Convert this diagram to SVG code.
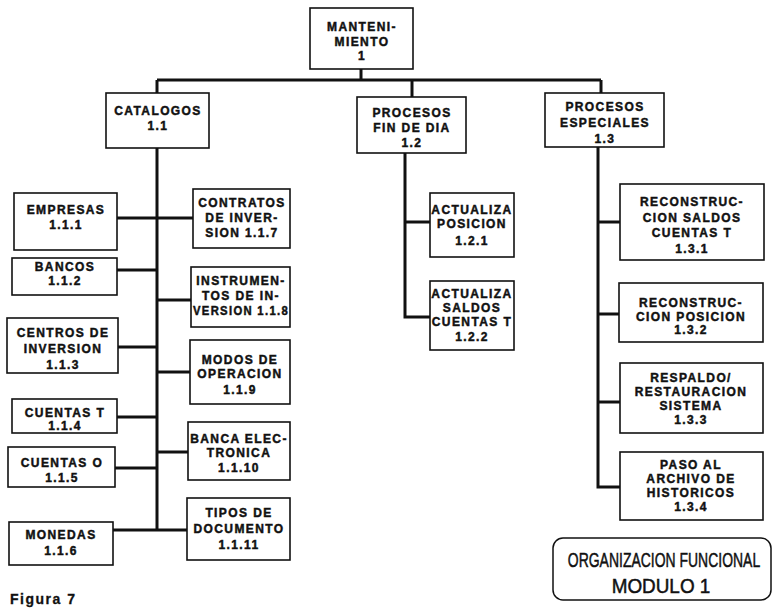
<svg xmlns="http://www.w3.org/2000/svg" width="773" height="609" viewBox="0 0 773 609">
  <style>
    .box { fill: #fff; stroke: #111; stroke-width: 1.6; }
    .lbl { font-family: "Liberation Sans", Arial, sans-serif; font-weight: bold; font-size: 12px; letter-spacing: 1.4px; fill: #111; stroke: #111; stroke-width: 0.45; text-anchor: middle; }
    .wire { fill: none; stroke: #111; stroke-width: 3; stroke-linejoin: miter; }
    .title { font-family: "Liberation Sans", Arial, sans-serif; font-size: 21px; fill: #111; text-anchor: middle; stroke: #111; stroke-width: 0.5; }
    .cap { font-family: "Liberation Sans", Arial, sans-serif; font-weight: bold; font-size: 14px; letter-spacing: 1.5px; fill: #111; stroke: #111; stroke-width: 0.3; }
  </style>
  <rect width="773" height="609" fill="#fff"/>

  <!-- connectors -->
  <g id="connectors" class="wire">
    <path d="M157 80 H601"/>
    <path d="M361 69 V80"/>
    <path d="M157 80 V93"/>
    <path d="M412 80 V97"/>
    <path d="M601 80 V93"/>
    <!-- catalogos trunk -->
    <path d="M157 148 V531"/>
    <path d="M117 218 H193"/>
    <path d="M117 270 H157"/>
    <path d="M118 347 H157"/>
    <path d="M117 417 H157"/>
    <path d="M115 468 H157"/>
    <path d="M113 530 H187"/>
    <path d="M157 300 H191"/>
    <path d="M157 372 H190"/>
    <path d="M157 452 H188"/>
    <!-- fin de dia trunk -->
    <path d="M405 153 V317 H430"/>
    <path d="M405 222 H430"/>
    <!-- especiales trunk -->
    <path d="M598 147 V487 H620"/>
    <path d="M598 222 H620"/>
    <path d="M598 314 H619"/>
    <path d="M598 402 H620"/>
  </g>

  <g id="n1">
    <rect class="box" x="310" y="8" width="103" height="61"/>
    <text class="lbl" x="362" y="31">MANTENI-</text>
    <text class="lbl" x="362" y="46">MIENTO</text>
    <text class="lbl" x="362" y="60">1</text>
  </g>
  <g id="n1-1">
    <rect class="box" x="106" y="93" width="103" height="55"/>
    <text class="lbl" x="158" y="115">CATALOGOS</text>
    <text class="lbl" x="158" y="130">1.1</text>
  </g>
  <g id="n1-2">
    <rect class="box" x="357" y="97" width="109" height="56"/>
    <text class="lbl" x="412" y="117">PROCESOS</text>
    <text class="lbl" x="412" y="132">FIN DE DIA</text>
    <text class="lbl" x="412" y="147">1.2</text>
  </g>
  <g id="n1-3">
    <rect class="box" x="545" y="93" width="119" height="54"/>
    <text class="lbl" x="605" y="111">PROCESOS</text>
    <text class="lbl" x="605" y="127">ESPECIALES</text>
    <text class="lbl" x="605" y="143">1.3</text>
  </g>

  <g id="n1-1-1">
    <rect class="box" x="14" y="193" width="103" height="57"/>
    <text class="lbl" x="66" y="214">EMPRESAS</text>
    <text class="lbl" x="66" y="229">1.1.1</text>
  </g>
  <g id="n1-1-2">
    <rect class="box" x="12" y="258" width="105" height="37"/>
    <text class="lbl" x="65" y="271">BANCOS</text>
    <text class="lbl" x="65" y="285">1.1.2</text>
  </g>
  <g id="n1-1-3">
    <rect class="box" x="7" y="318" width="111" height="55"/>
    <text class="lbl" x="63" y="337">CENTROS DE</text>
    <text class="lbl" x="63" y="353">INVERSION</text>
    <text class="lbl" x="63" y="369">1.1.3</text>
  </g>
  <g id="n1-1-4">
    <rect class="box" x="12" y="399" width="105" height="34"/>
    <text class="lbl" x="65" y="417">CUENTAS T</text>
    <text class="lbl" x="65" y="430">1.1.4</text>
  </g>
  <g id="n1-1-5">
    <rect class="box" x="8" y="447" width="107" height="40"/>
    <text class="lbl" x="62" y="467">CUENTAS O</text>
    <text class="lbl" x="62" y="482">1.1.5</text>
  </g>
  <g id="n1-1-6">
    <rect class="box" x="9" y="522" width="104" height="43"/>
    <text class="lbl" x="61" y="539">MONEDAS</text>
    <text class="lbl" x="61" y="555">1.1.6</text>
  </g>

  <g id="n1-1-7">
    <rect class="box" x="193" y="189" width="97" height="59"/>
    <text class="lbl" x="242" y="207">CONTRATOS</text>
    <text class="lbl" x="242" y="222">DE INVER-</text>
    <text class="lbl" x="242" y="237">SION 1.1.7</text>
  </g>
  <g id="n1-1-8">
    <rect class="box" x="191" y="267" width="99" height="60"/>
    <text class="lbl" x="241" y="285">INSTRUMEN-</text>
    <text class="lbl" x="241" y="300">TOS DE IN-</text>
    <text class="lbl" x="241" y="315" textLength="96" lengthAdjust="spacingAndGlyphs">VERSION 1.1.8</text>
  </g>
  <g id="n1-1-9">
    <rect class="box" x="190" y="340" width="100" height="64"/>
    <text class="lbl" x="240" y="364">MODOS DE</text>
    <text class="lbl" x="240" y="378">OPERACION</text>
    <text class="lbl" x="240" y="394">1.1.9</text>
  </g>
  <g id="n1-1-10">
    <rect class="box" x="188" y="422" width="102" height="58"/>
    <text class="lbl" x="239" y="443">BANCA ELEC-</text>
    <text class="lbl" x="239" y="457">TRONICA</text>
    <text class="lbl" x="239" y="472">1.1.10</text>
  </g>
  <g id="n1-1-11">
    <rect class="box" x="187" y="498" width="103" height="62"/>
    <text class="lbl" x="239" y="517">TIPOS DE</text>
    <text class="lbl" x="239" y="533">DOCUMENTO</text>
    <text class="lbl" x="239" y="549">1.1.11</text>
  </g>

  <g id="n1-2-1">
    <rect class="box" x="430" y="193" width="84" height="64"/>
    <text class="lbl" x="472" y="214">ACTUALIZA</text>
    <text class="lbl" x="472" y="228">POSICION</text>
    <text class="lbl" x="472" y="245">1.2.1</text>
  </g>
  <g id="n1-2-2">
    <rect class="box" x="430" y="281" width="84" height="69"/>
    <text class="lbl" x="472" y="298">ACTUALIZA</text>
    <text class="lbl" x="472" y="312">SALDOS</text>
    <text class="lbl" x="472" y="326">CUENTAS T</text>
    <text class="lbl" x="472" y="341">1.2.2</text>
  </g>

  <g id="n1-3-1">
    <rect class="box" x="620" y="184" width="144" height="76"/>
    <text class="lbl" x="692" y="206">RECONSTRUC-</text>
    <text class="lbl" x="692" y="222">CION SALDOS</text>
    <text class="lbl" x="692" y="237">CUENTAS T</text>
    <text class="lbl" x="692" y="253">1.3.1</text>
  </g>
  <g id="n1-3-2">
    <rect class="box" x="619" y="283" width="144" height="59"/>
    <text class="lbl" x="691" y="307">RECONSTRUC-</text>
    <text class="lbl" x="691" y="321">CION POSICION</text>
    <text class="lbl" x="691" y="334">1.3.2</text>
  </g>
  <g id="n1-3-3">
    <rect class="box" x="620" y="363" width="143" height="70"/>
    <text class="lbl" x="691" y="382">RESPALDO/</text>
    <text class="lbl" x="691" y="396">RESTAURACION</text>
    <text class="lbl" x="691" y="410">SISTEMA</text>
    <text class="lbl" x="691" y="424">1.3.3</text>
  </g>
  <g id="n1-3-4">
    <rect class="box" x="620" y="452" width="143" height="68"/>
    <text class="lbl" x="691" y="469">PASO AL</text>
    <text class="lbl" x="691" y="483">ARCHIVO DE</text>
    <text class="lbl" x="691" y="497">HISTORICOS</text>
    <text class="lbl" x="691" y="511">1.3.4</text>
  </g>

  <!-- title panel -->
  <g id="title">
    <rect x="553" y="538" width="218" height="62" rx="10" ry="10" fill="#fff" stroke="#111" stroke-width="1.5"/>
    <text class="title" transform="translate(664 567) scale(0.665 1)">ORGANIZACION FUNCIONAL</text>
    <text class="title" transform="translate(661 593) scale(0.9 1)">MODULO 1</text>
  </g>

  <text class="cap" x="10" y="604">Figura 7</text>
</svg>
